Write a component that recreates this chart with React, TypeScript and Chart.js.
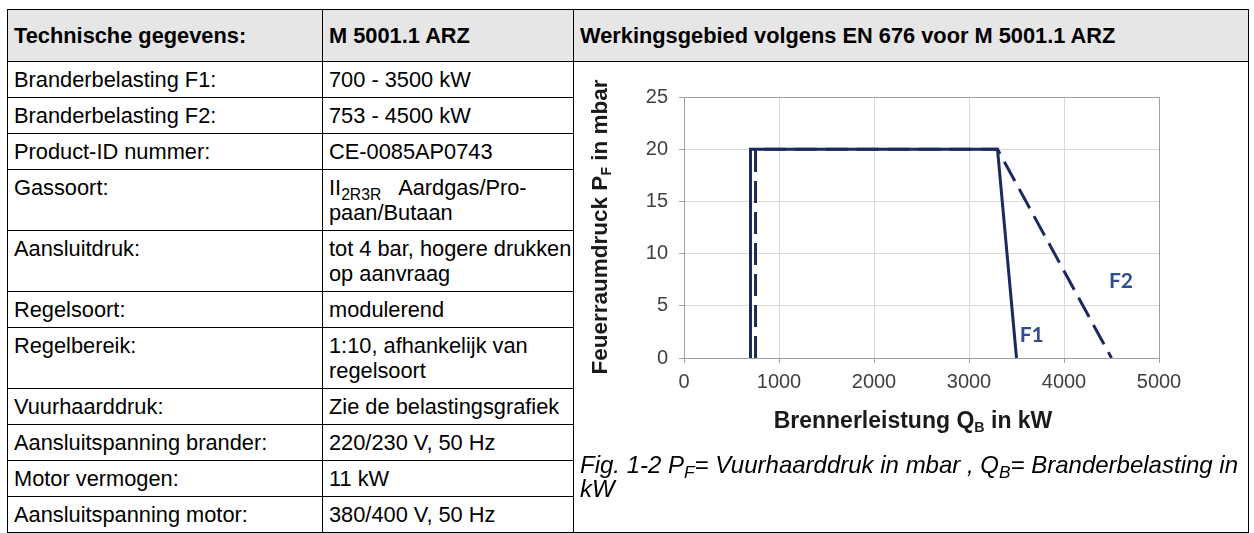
import React, { useEffect, useRef } from "react";
import { Chart, registerables } from "chart.js";
Chart.register(...registerables);

const headerLabels = ["Technische gegevens:", "M 5001.1 ARZ", "Werkingsgebied volgens EN 676 voor M 5001.1 ARZ"];
const specLabels = [
  "Branderbelasting F1:",
  "Branderbelasting F2:",
  "Product-ID nummer:",
  "Gassoort:",
  "Aansluitdruk:",
  "Regelsoort:",
  "Regelbereik:",
  "Vuurhaarddruk:",
  "Aansluitspanning brander:",
  "Motor vermogen:",
  "Aansluitspanning motor:",
];
const specValues = [
  "700 - 3500 kW",
  "753 - 4500 kW",
  "CE-0085AP0743",
  "II_{2R3R}\u00a0\u00a0 Aardgas/Pro-\npaan/Butaan",
  "tot 4 bar, hogere drukken\nop aanvraag",
  "modulerend",
  "1:10, afhankelijk van\nregelsoort",
  "Zie de belastingsgrafiek",
  "220/230 V, 50 Hz",
  "11 kW",
  "380/400 V, 50 Hz",
];

const xTickValues = [0, 1000, 2000, 3000, 4000, 5000];
const yTickValues = [0, 5, 10, 15, 20, 25];
const f1Load = [700, 700, 3300, 3500];
const f1Pressure = [0, 20, 20, 0];
const f2Load = [753, 753, 3300, 4500];
const f2Pressure = [0, 20, 20, 0];
const seriesNames = ["F1", "F2"];
const seriesLabelLoad = [3660, 4600];
const seriesLabelPressure = [2.2, 7.4];

const FONT = '"Liberation Sans", Arial, sans-serif';
const LINE_COLOR = "#1b2a5e";
const LABEL_COLOR = "#2e4d90";
const GRID = "#d9d9d9";
const BORDER = "#a0a0a0";

const subStyle: React.CSSProperties = { fontSize: "0.72em", verticalAlign: "-0.3em", lineHeight: 0 };

function renderRich(text: string) {
  const parts = text.split(/_\{([^}]*)\}/);
  return parts.map((p, i) =>
    i % 2 === 1 ? (
      <sub key={i} style={subStyle}>{p}</sub>
    ) : (
      <React.Fragment key={i}>{p}</React.Fragment>
    )
  );
}

const seriesLabelPlugin = {
  id: "seriesLabels",
  afterDatasetsDraw(chart: any) {
    const { ctx, scales } = chart;
    ctx.save();
    ctx.font = "bold 21px Lato";
    ctx.fillStyle = LABEL_COLOR;
    ctx.textAlign = "center";
    ctx.textBaseline = "middle";
    seriesNames.forEach((n, i) => {
      ctx.fillText(n, scales.x.getPixelForValue(seriesLabelLoad[i]), scales.y.getPixelForValue(seriesLabelPressure[i]));
    });
    ctx.restore();
  },
};

function PressureChart() {
  const ref = useRef<HTMLCanvasElement | null>(null);
  useEffect(() => {
    if (!ref.current) return;
    const tickFont = { family: FONT, size: 20 };
    const chart = new Chart(ref.current, {
      type: "scatter",
      data: {
        datasets: [
          {
            label: seriesNames[0],
            data: f1Load.map((x, i) => ({ x, y: f1Pressure[i] })),
            showLine: true,
            borderColor: LINE_COLOR,
            backgroundColor: LINE_COLOR,
            borderWidth: 3,
            pointRadius: 0,
            tension: 0,
            borderJoinStyle: "miter",
          },
          {
            label: seriesNames[1],
            data: f2Load.map((x, i) => ({ x, y: f2Pressure[i] })),
            showLine: true,
            borderColor: LINE_COLOR,
            backgroundColor: LINE_COLOR,
            borderWidth: 3,
            borderDash: [22, 9],
            pointRadius: 0,
            tension: 0,
          },
        ],
      },
      options: {
        animation: false,
        responsive: false,
        events: [],
        layout: { padding: { left: 0, right: 87, top: 34, bottom: 0 } },
        plugins: { legend: { display: false }, tooltip: { enabled: false } },
        scales: {
          x: {
            type: "linear",
            min: xTickValues[0],
            max: xTickValues[xTickValues.length - 1],
            afterFit: (a: any) => {
              a.height = 95;
            },
            afterBuildTicks: (a: any) => {
              a.ticks = xTickValues.map((v) => ({ value: v }));
            },
            grid: {
              color: (c: any) => (c.tick && c.tick.value === 5000 ? BORDER : GRID),
              tickLength: 5,
              tickColor: BORDER,
            },
            border: { color: BORDER, width: 1 },
            ticks: {
              font: tickFont,
              color: "#404040",
              padding: 7,
              maxRotation: 0,
              autoSkip: false,
              callback: (v: any) => String(v),
            },
          },
          y: {
            type: "linear",
            min: yTickValues[0],
            max: yTickValues[yTickValues.length - 1],
            afterFit: (a: any) => {
              a.width = 110;
            },
            afterBuildTicks: (a: any) => {
              a.ticks = yTickValues.map((v) => ({ value: v }));
            },
            grid: {
              color: (c: any) => (c.tick && c.tick.value === 25 ? BORDER : GRID),
              tickLength: 5,
              tickColor: BORDER,
            },
            border: { color: BORDER, width: 1 },
            ticks: { font: tickFont, color: "#404040", padding: 11, autoSkip: false, callback: (v: any) => String(v) },
          },
        },
      },
      plugins: [seriesLabelPlugin],
    } as any);
    return () => chart.destroy();
  }, []);
  return <canvas ref={ref} width={672} height={390} style={{ display: "block", width: 672, height: 390 }} />;
}

export default function App() {
  const cell: React.CSSProperties = {
    border: "1px solid #000",
    padding: "5px 1px 5px 6px",
    verticalAlign: "top",
    whiteSpace: "pre",
    overflow: "visible",
    lineHeight: "25px",
  };
  const head: React.CSSProperties = {
    ...cell,
    background: "#e6e6e6",
    fontWeight: "bold",
    verticalAlign: "middle",
    padding: "0 1px 0 6px",
  };
  const rowHeights = specValues.map((v) => (v.includes("\n") ? 61 : 35));
  return (
    <div style={{ position: "absolute", left: 0, top: 0, width: 1254, height: 533, overflow: "hidden", fontFamily: FONT, fontSize: 21.8, color: "#000", background: "#fff" }}>
      <table
        style={{ position: "absolute", left: 7, top: 9, borderCollapse: "collapse", tableLayout: "fixed", width: 1241, fontFamily: FONT, fontSize: 21.8 }}
      >
        <colgroup>
          <col style={{ width: 315 }} />
          <col style={{ width: 251 }} />
          <col style={{ width: 675 }} />
        </colgroup>
        <tbody>
          <tr style={{ height: 52 }}>
            {headerLabels.map((h, i) => (
              <td key={i} style={head}>{h}</td>
            ))}
          </tr>
          {specLabels.map((l, i) => (
            <tr key={i} style={{ height: rowHeights[i] }}>
              <td style={cell}>{l}</td>
              <td style={cell}>{renderRich(specValues[i])}</td>
              {i === 0 ? <td rowSpan={specLabels.length} style={{ border: "1px solid #000", padding: 0 }} /> : null}
            </tr>
          ))}
        </tbody>
      </table>
      <div style={{ position: "absolute", left: 574, top: 63 }}>
        <PressureChart />
      </div>
      <div
        style={{
          position: "absolute",
          left: 600 - 175,
          top: 227 - 13,
          width: 350,
          height: 26,
          lineHeight: "26px",
          textAlign: "center",
          fontWeight: "bold",
          fontSize: 22.5,
          color: "#1a1a1a",
          transform: "rotate(-90deg)",
          whiteSpace: "nowrap",
        }}
      >
        Feuerraumdruck P<sub style={{ fontSize: "0.62em", verticalAlign: "-0.3em", lineHeight: 0 }}>F</sub> in mbar
      </div>
      <div
        style={{
          position: "absolute",
          left: 913 - 200,
          width: 400,
          top: 407,
          lineHeight: "26px",
          textAlign: "center",
          fontWeight: "bold",
          fontSize: 23,
          color: "#1a1a1a",
          whiteSpace: "nowrap",
        }}
      >
        Brennerleistung Q<sub style={{ fontSize: "0.62em", verticalAlign: "-0.3em", lineHeight: 0 }}>B</sub> in kW
      </div>
      <div
        style={{
          position: "absolute",
          left: 580,
          top: 453,
          width: 664,
          fontStyle: "italic",
          fontSize: 24,
          lineHeight: "24px",
        }}
      >
        Fig. 1-2 P<sub style={subStyle}>F</sub>= Vuurhaarddruk in mbar , Q<sub style={subStyle}>B</sub>= Branderbelasting in kW
      </div>
    </div>
  );
}
